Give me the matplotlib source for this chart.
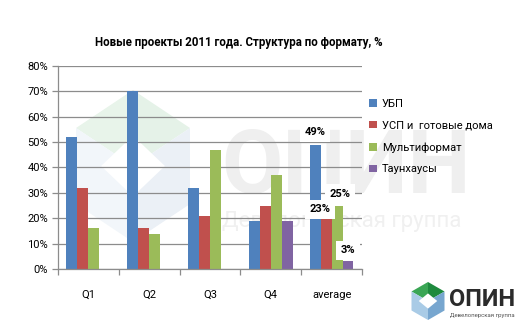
import numpy as np
import matplotlib.pyplot as plt
from matplotlib.patches import Polygon

plt.rcParams['font.family'] = ['Roboto', 'DejaVu Sans']

categories = ['Q1', 'Q2', 'Q3', 'Q4', 'average']
series_names = ['УБП', 'УСП и  готовые дома', 'Мультиформат', 'Таунхаусы']
ubp = [52, 70, 32, 19, 49]
usp = [32, 16, 21, 25, 23]
multi = [16, 14, 47, 37, 25]
town = [0, 0, 0, 19, 3]
colors = ['#4F81BD', '#C0504D', '#9BBB59', '#8064A2']
title = 'Новые проекты 2011 года. Структура по формату, %'

W, H = 531, 333
fig = plt.figure(figsize=(W / 100, H / 100), dpi=100)

# background layer in pixel coordinates: watermark and corner logo
bg = fig.add_axes([0, 0, 1, 1], zorder=0)
bg.set_xlim(0, W)
bg.set_ylim(H, 0)
bg.axis('off')


def cube(ax, cx, cy, w, h, roof_l, roof_r, side_l, side_r):
    hw, q = w / 2, h / 4
    top = (cx, cy - 2 * q)
    ul, ur = (cx - hw, cy - q), (cx + hw, cy - q)
    ll, lr = (cx - hw, cy + q), (cx + hw, cy + q)
    bot = (cx, cy + 2 * q)
    mid = (cx, cy)
    ax.add_patch(Polygon([top, ul, mid], color=roof_l, lw=0))
    ax.add_patch(Polygon([top, ur, mid], color=roof_r, lw=0))
    ax.add_patch(Polygon([ul, ll, bot, mid], color=side_l, lw=0))
    ax.add_patch(Polygon([ur, lr, bot, mid], color=side_r, lw=0))
    dw, dh = w * 0.28, h * 0.2
    ax.add_patch(Polygon([(cx, cy - dh), (cx + dw, cy), (cx, cy + dh), (cx - dw, cy)],
                         color='white', lw=0))


cube(bg, 133, 166, 114, 152, '#e8f4ea', '#e5f2e8', '#f2f6fa', '#ebf0f6')
bg.text(221, 168, 'ОПИН', fontsize=64, fontweight='bold', color='#efefef',
        ha='left', va='center')
bg.text(222, 221, 'Девелоперская группа', fontsize=16, color='#f0f0f0',
        ha='left', va='center')

cube(bg, 428, 301, 33, 38, '#3aa655', '#1e8a3e', '#a9cbe6', '#77a6cf')
bg.text(449, 300, 'ОПИН', fontsize=17, fontweight='bold', color='#2b2b2b',
        ha='left', va='center')
bg.text(450, 315, 'Девелоперская группа', fontsize=4.3, color='#555555',
        ha='left', va='center')

fig.text(0.45, 0.872, title, fontsize=8.3, fontweight='bold', ha='center', va='center')

ax = fig.add_axes([0.1092, 0.192, 0.5725, 0.610], zorder=1)
ax.patch.set_alpha(0)

x = np.arange(len(categories))
bw = 0.18
data = [ubp, usp, multi, town]
for i, (vals, c, name) in enumerate(zip(data, colors, series_names)):
    ax.bar(x + (i - 1.5) * bw, vals, bw, color=c, label=name, zorder=2)

ax.set_xlim(-0.5, len(categories) - 0.5)
ax.set_ylim(0, 80)
ax.set_yticks(np.arange(0, 81, 10))
ax.set_yticklabels([f'{v}%' for v in range(0, 81, 10)], fontsize=8)
ax.yaxis.grid(True, color='#8c8c8c', lw=0.9, zorder=1)
ax.set_axisbelow(True)

ax.set_xticks(x)
ax.set_xticklabels(categories, fontsize=8)
ax.set_xticks(np.arange(-0.5, len(categories)), minor=True)
ax.tick_params(axis='x', which='major', length=0, pad=15)
ax.tick_params(axis='x', which='minor', length=4, color='#8c8c8c', width=0.9)
ax.tick_params(axis='y', length=4, color='#8c8c8c', width=0.9, pad=3)

for s in ['top', 'right']:
    ax.spines[s].set_visible(False)
for s in ['left', 'bottom']:
    ax.spines[s].set_color('#8c8c8c')
    ax.spines[s].set_linewidth(0.9)

# value labels for the average group
avg = len(categories) - 1
label_offsets = [(0, 9), (-4.5, 1), (2, 8.5), (0, 8)]
for i, (vals, off) in enumerate(zip(data, label_offsets)):
    v = vals[avg]
    ax.annotate(f'{v}%', (avg + (i - 1.5) * bw, v), xytext=off, textcoords='offset points',
                ha='center', va='center', fontsize=8, fontweight='bold', zorder=5,
                bbox=dict(boxstyle='square,pad=0.4', fc='white', ec='none'))

ax.legend(loc='upper left', bbox_to_anchor=(1.01, 0.86), frameon=False, fontsize=8,
          handlelength=0.7, handleheight=0.7, handletextpad=0.4, labelspacing=1.05,
          borderaxespad=0)

fig.savefig('out.png', dpi=100)
